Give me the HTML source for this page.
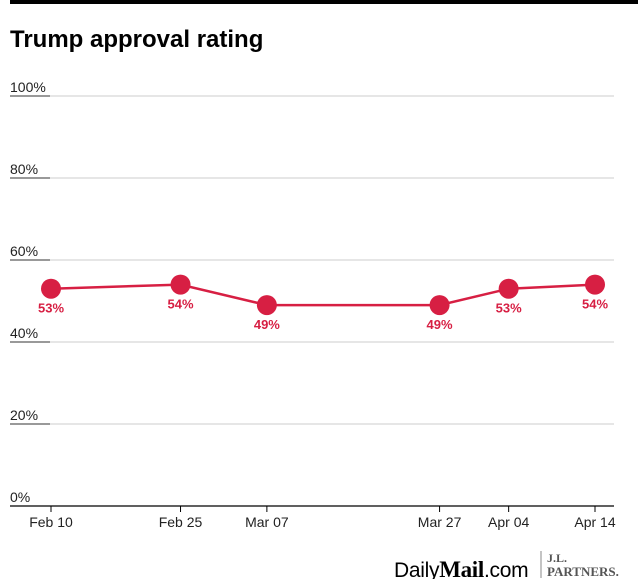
<!DOCTYPE html>
<html><head><meta charset="utf-8"><style>
body{margin:0;background:#fff;width:644px;height:579px;overflow:hidden;font-family:"Liberation Sans",sans-serif}
</style></head><body>
<svg width="644" height="579">
<rect x="10" y="0" width="628" height="4" fill="#000"/>
<text x="10" y="47" font-size="24" font-weight="bold" fill="#000">Trump approval rating</text>
<g id="grid"></g><g id="xaxis"></g><g id="series"></g>
<g>
<text x="394" y="577" font-size="21" fill="#000" letter-spacing="-0.3">Daily<tspan font-family="Liberation Serif" font-weight="bold" font-size="23">Mail</tspan>.com</text>
<line x1="541" y1="551" x2="541" y2="578" stroke="#888" stroke-width="1"/>
<text x="547" y="562" font-family="Liberation Serif" font-weight="bold" font-size="12" fill="#555">J.L.</text>
<text x="547" y="576" font-family="Liberation Serif" font-weight="bold" font-size="13" fill="#555">PARTNERS.</text>
</g>
</svg>
<script>
const yTicks=[0,20,40,60,80,100];
const dates=["2025-02-10","2025-02-25","2025-03-07","2025-03-27","2025-04-04","2025-04-14"];
const dateLabels=["Feb 10","Feb 25","Mar 07","Mar 27","Apr 04","Apr 14"];
const values=[53,54,49,49,53,54];
const NS="http://www.w3.org/2000/svg";
const t0=Date.parse(dates[0]),t1=Date.parse(dates[dates.length-1]);
const x=d=>51+(Date.parse(d)-t0)/(t1-t0)*(595-51);
const y=v=>506-v*4.1;
function mk(tag,attrs,parent){const e=document.createElementNS(NS,tag);for(const k in attrs)e.setAttribute(k,attrs[k]);document.getElementById(parent).appendChild(e);return e;}
yTicks.forEach(v=>{
 if(v>0){const l=mk('line',{x1:10,x2:614,y1:y(v),y2:y(v),stroke:'#ccc','stroke-width':1},'grid');
 
 
 const u=mk('line',{x1:10,x2:50,y1:y(v),y2:y(v),stroke:'#333','stroke-width':1},'grid');
 
 }
 const t=mk('text',{x:10,y:y(v)-4,'font-size':14,fill:'#222'},'grid');t.textContent=v+'%';
 
 
});
const ax=mk('line',{x1:10,x2:614,y1:506,y2:506,stroke:'#000','stroke-width':1.2},'xaxis');


dates.forEach((d,i)=>{
 const tk=mk('line',{x1:x(d),x2:x(d),y1:506,y2:512,stroke:'#000'},'xaxis');
 
 
 const t=mk('text',{x:x(d),y:527,'font-size':14,fill:'#222','text-anchor':'middle'},'xaxis');t.textContent=dateLabels[i];
 
 
});
const pl=mk('polyline',{points:dates.map((d,i)=>x(d)+','+y(values[i])).join(' '),fill:'none',stroke:'#d71f43','stroke-width':2.5},'series');


dates.forEach((d,i)=>{
 const c=mk('circle',{cx:x(d),cy:y(values[i]),r:10,fill:'#d71f43'},'series');
 
 
 const t=mk('text',{x:x(d),y:y(values[i])+24,'font-size':13,'font-weight':'bold',fill:'#d71f43','text-anchor':'middle'},'series');t.textContent=values[i]+'%';
 
 
});
</script>
</body></html>
